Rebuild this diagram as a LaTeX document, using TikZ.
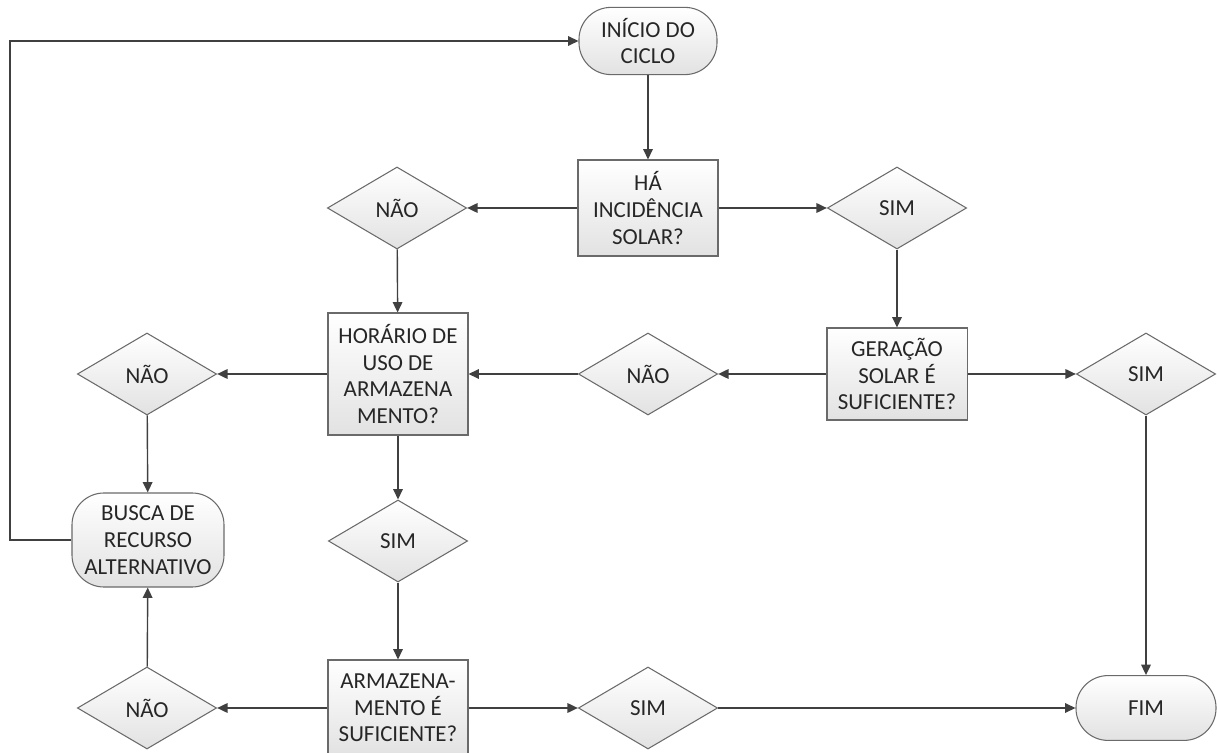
\documentclass[tikz,border=0pt]{standalone}
\usepackage{fontspec}
\setmainfont{Carlito}
\usetikzlibrary{arrows.meta, shapes.geometric}
\definecolor{cline}{HTML}{404040}
\definecolor{cedge}{HTML}{6A6A6A}
\definecolor{cfill}{HTML}{E2E2E2}
\definecolor{ctext}{HTML}{262626}
\tikzset{
  every picture/.style={x=0.025cm, y=-0.025cm, line width=0.75pt},
  every node/.style={font=\fontsize{16.3pt}{19pt}\selectfont, text=ctext, align=center},
  box/.style={rectangle, draw=cedge, top color=white, bottom color=cfill, minimum width=3.5cm, minimum height=2.4cm, inner sep=2pt},
  decision/.style={diamond, draw=cedge, top color=white, bottom color=cfill, minimum width=3.48cm, minimum height=2.05cm, inner sep=0pt},
  terminal/.style={rectangle, rounded corners=0.8cm, draw=cedge, top color=white, bottom color=cfill, minimum width=3.45cm, minimum height=1.68cm, inner sep=1pt},
  arrow/.style={-{Triangle[length=2.6mm, width=2.4mm]}, draw=cline, line width=1pt},
}

\begin{document}
\begin{tikzpicture}
  \useasboundingbox (0,0) rectangle (1217,753);
  \node[terminal] (ini) at (648,41) {INÍCIO DO\\CICLO};
  \node[box] (inc) at (648,208) {HÁ\\INCIDÊNCIA\\SOLAR?};
  \node[decision] (n1) at (397,208) {NÃO};
  \node[decision] (s1) at (897,208) {SIM};
  \node[box, minimum height=3.05cm] (hor) at (398,374) {HORÁRIO DE\\USO DE\\ARMAZENA\\MENTO?};
  \node[box, minimum height=2.3cm] (ger) at (897,374) {GERAÇÃO\\SOLAR É\\SUFICIENTE?};
  \node[decision] (n2) at (648,374) {NÃO};
  \node[decision] (s2) at (1146,374) {SIM};
  \node[decision] (n3) at (147,374) {NÃO};
  \node[terminal, minimum width=3.8cm, minimum height=2.35cm] (bus) at (148,540) {BUSCA DE\\RECURSO\\ALTERNATIVO};
  \node[decision] (s3) at (398,541) {SIM};
  \node[box] (arm) at (398,708) {ARMAZENA-\\MENTO É\\SUFICIENTE?};
  \node[decision] (n4) at (147,708) {NÃO};
  \node[decision] (s4) at (648,708) {SIM};
  \node[terminal, minimum width=3.5cm, minimum height=1.62cm] (fim) at (1146,708) {FIM};
  \coordinate (k) at (10,41);

  \draw[arrow] (ini) -- (inc);
  \draw[arrow] (inc) -- (n1);
  \draw[arrow] (inc) -- (s1);
  \draw[arrow] (n1) -- (hor);
  \draw[arrow] (s1) -- (ger);
  \draw[arrow] (ger) -- (n2);
  \draw[arrow] (n2) -- (hor);
  \draw[arrow] (ger) -- (s2);
  \draw[arrow] (s2) -- (fim);
  \draw[arrow] (hor) -- (n3);
  \draw[arrow] (n3) -- (bus);
  \draw[arrow] (hor) -- (s3);
  \draw[arrow] (s3) -- (arm);
  \draw[arrow] (arm) -- (n4);
  \draw[arrow] (n4) -- (bus);
  \draw[arrow] (arm) -- (s4);
  \draw[arrow] (s4) -- (fim);
  \draw[arrow] (bus.west) -| (k) -- (ini.west);
\end{tikzpicture}
\end{document}
